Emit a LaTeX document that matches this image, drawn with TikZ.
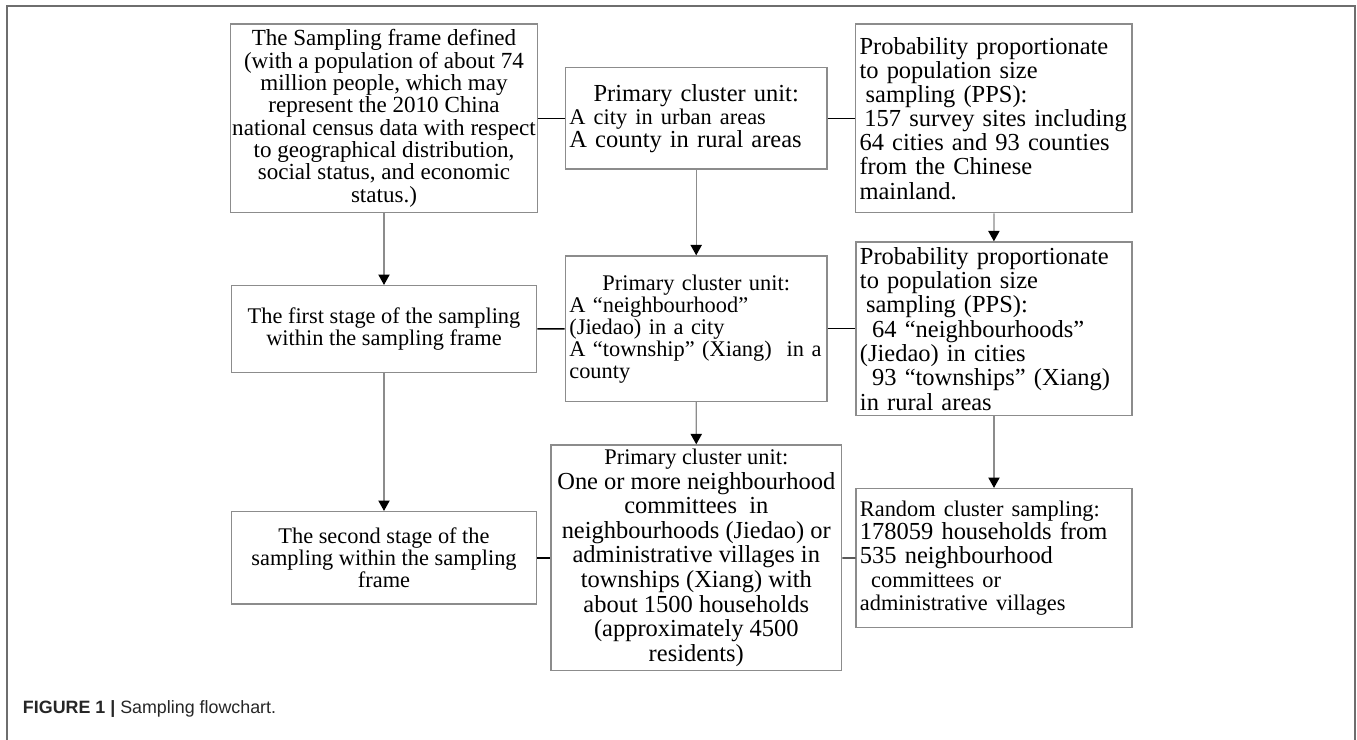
\documentclass[tikz,border=0pt]{standalone}
\usepackage{fontspec}
\setmainfont{Liberation Serif}
\newfontfamily\capfont{Liberation Sans}
\usetikzlibrary{positioning,arrows.meta}
\definecolor{boxgray}{RGB}{140,140,140}
\definecolor{framegray}{RGB}{110,110,110}
\newcommand{\fsz}[2]{\fontsize{#1}{#2}\selectfont\lineskiplimit=-20pt\relax}
\newcommand{\midline}[1]{\null\hfill#1\hfill\null}
\tikzset{
  stagebox/.style={draw=boxgray, line width=0.9pt, fill=white, align=center, inner sep=1pt},
  unitbox/.style={draw=boxgray, line width=0.9pt, fill=white, align=left, inner xsep=0.1cm, inner ysep=1pt},
  downarrow/.style={-{Triangle[length=2.6mm, width=2.8mm, color=black]}, draw=boxgray, line width=0.9pt},
  sideline/.style={draw=black, line width=1pt}
}

\begin{document}
\begin{tikzpicture}[x=0.025cm, y=-0.025cm]
  \useasboundingbox (0,0) rectangle (1357,740);
  % outer frame
  \draw[framegray, line width=1.1pt] (7,740) -- (7,6) -- (1355,6) -- (1355,740);
  % top row
  \node[stagebox, minimum width=7.63cm, minimum height=4.72cm, font=\fsz{16.4}{15.9}] (frame) at (384,118.3)
    {The Sampling frame defined\\(with a population of about 74\\million people, which may\\represent the 2010 China\\national census data with respect\\to geographical distribution,\\social status, and economic\\status.)};
  \node[unitbox, minimum width=6.54cm, minimum height=2.53cm, text width=6.34cm, font=\fsz{17.4}{16.3}] (city) at (696.2,118.3)
    {\midline{Primary cluster unit:}\\{\fsz{15.9}{16.3}A city in urban areas}\\A county in rural areas};
  \node[unitbox, minimum width=6.91cm, minimum height=4.72cm, text width=6.71cm, font=\fsz{17.4}{17.2}] (pps1) at (993.8,118.3)
    {Probability proportionate\\to population size\\\hspace*{0.25em}sampling (PPS):\\\hspace*{0.2em}157 survey sites including\\64 cities and 93 counties\\from the Chinese\\mainland.};
  % middle row
  \node[stagebox, minimum width=7.63cm, minimum height=2.17cm, font=\fsz{15.9}{15.6}] (stage1) at (384,329)
    {The first stage of the sampling\\within the sampling frame};
  \node[unitbox, minimum width=6.54cm, minimum height=3.64cm, text width=6.34cm, font=\fsz{15.9}{15.6}] (jiedao) at (696.2,328.8)
    {\midline{Primary cluster unit:}\\A “neighbourhood”\\(Jiedao) in a city\\A “township” (Xiang)\ \ in a\\county};
  \node[unitbox, minimum width=6.9cm, minimum height=4.34cm, text width=6.7cm, font=\fsz{17.4}{17.3}] (pps2) at (994,328.8)
    {Probability proportionate\\to population size\\\hspace*{0.25em}sampling (PPS):\\\hspace*{0.5em}64 “neighbourhoods”\\(Jiedao) in cities\\\hspace*{0.5em}93 “townships” (Xiang)\\in rural areas};
  % bottom row
  \node[stagebox, minimum width=7.63cm, minimum height=2.31cm, font=\fsz{15.9}{15.7}] (stage2) at (384,557.8)
    {The second stage of the\\sampling within the sampling\\frame};
  \node[stagebox, minimum width=7.27cm, minimum height=5.64cm, font=\fsz{17.4}{17.5}] (committee) at (696.3,557.8)
    {{\fsz{15.9}{17.5}Primary cluster unit:}\\One or more neighbourhood\\committees\ \ in\\neighbourhoods (Jiedao) or\\administrative villages in\\townships (Xiang) with\\about 1500 households\\(approximately 4500\\residents)};
  \node[unitbox, minimum width=6.9cm, minimum height=3.48cm, text width=6.7cm, font=\fsz{17.4}{16.8}] (random) at (994,558.2)
    {{\fsz{15.9}{16.8}Random cluster sampling:}\\178059 households from\\535 neighbourhood\\{\fsz{15.9}{16.8}\hspace*{0.5em}committees or}\\{\fsz{15.9}{16.8}administrative villages}};
  % connectors
  \draw[downarrow] (frame) -- (stage1);
  \draw[downarrow] (stage1) -- (stage2);
  \draw[downarrow] (city) -- (jiedao);
  \draw[downarrow] (jiedao) -- (committee);
  \draw[downarrow] (pps1) -- (pps2);
  \draw[downarrow] (pps2) -- (random);
  \draw[sideline] (frame) -- (city);
  \draw[sideline] (city) -- (pps1);
  \draw[sideline] (stage1) -- (jiedao);
  \draw[sideline] (jiedao) -- (pps2);
  \draw[sideline] (stage2) -- (committee);
  \draw[sideline] (committee) -- (random);
  % caption
  \node[anchor=base west, inner sep=0pt, text=black!85, font=\capfont\fsz{12.7}{14}] (caption) at (22.7,714)
    {\textbf{FIGURE 1 |} Sampling flowchart.};
\end{tikzpicture}
\end{document}
